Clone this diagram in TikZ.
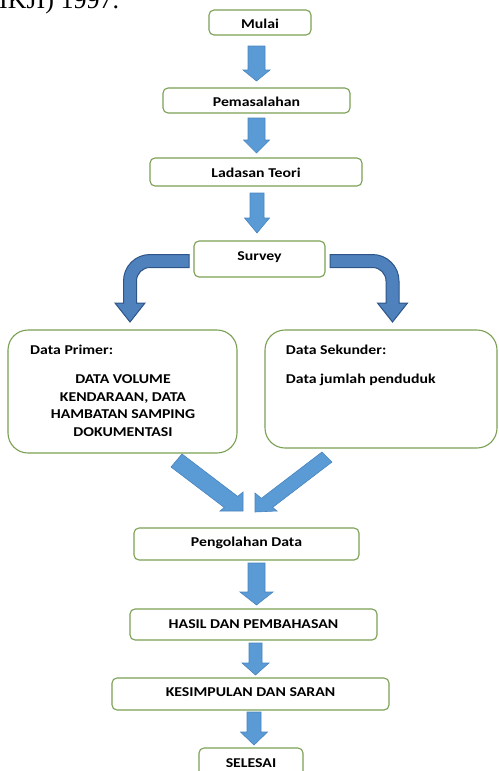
\documentclass[tikz,border=0pt]{standalone}
\usepackage{fontspec}
\setmainfont{Carlito}[FakeStretch=1.17]
\newfontfamily\serifhead{Liberation Serif}
\definecolor{boxgreen}{RGB}{122,160,84}
\definecolor{arrlight}{RGB}{91,155,213}
\definecolor{arrlightedge}{RGB}{72,132,192}
\definecolor{arrdark}{RGB}{79,129,189}
\definecolor{arrdarkedge}{RGB}{45,85,135}
\tikzset{
  box/.style={draw=boxgreen, line width=1.1pt, rounded corners=5pt, fill=white,
    inner sep=0pt, font=\fontsize{13.5}{16}\selectfont\bfseries,
    text height=11.7pt, text depth=0pt},
  bigbox/.style={draw=boxgreen, line width=1.1pt, rounded corners=20pt, fill=white, inner sep=0pt},
  txt/.style={inner sep=0pt, font=\fontsize{13.5}{16}\selectfont\bfseries,
    text height=8.7pt, text depth=0pt},
  blocktxt/.style={inner sep=0pt, align=center, font=\fontsize{13.5}{17.7}\selectfont\bfseries},
  lightarrow/.style={fill=arrlight, draw=arrlightedge, line width=0.6pt, line join=miter},
  darkarrow/.style={fill=arrdark, draw=arrdarkedge, line width=1pt, line join=miter}
}
\newcommand\downblk[6]{\draw[lightarrow] ({#1-#5},#2) -- ({#1+#5},#2) -- ({#1+#5},#3) -- ({#1+#6},#3) -- (#1,#4) -- ({#1-#6},#3) -- ({#1-#5},#3) -- cycle;}
\begin{document}
\begin{tikzpicture}[x=1pt, y=-1pt]
\path[use as bounding box] (0,0) rectangle (498,771);
\clip (0,0) rectangle (498,771);

% header fragment
\node[font=\serifhead\fontsize{26}{26}\selectfont, anchor=base west, inner sep=0pt] (head) at (-1,9) {IKJI) 1997.};

% boxes
\node[box, minimum width=102pt, minimum height=25pt] (mulai) at (260,22.5) {Mulai};
\node[box, minimum width=187pt, minimum height=25pt] (masalah) at (256.5,100.5) {Pemasalahan};
\node[box, minimum width=212pt, minimum height=28pt] (teori) at (256,172) {Ladasan Teori};
\node[box, minimum width=131pt, minimum height=36pt, text height=8.7pt, text depth=6pt] (survey) at (259.5,259) {Survey};

\node[bigbox, minimum width=229pt, minimum height=123pt] (primer) at (122.5,391.5) {};
\node[bigbox, minimum width=232pt, minimum height=118pt] (sekunder) at (381,389) {};
\node[txt, anchor=west] (primerlabel) at (30,350) {Data Primer:};
\node[blocktxt] (primerdata) at (123,405.5) {DATA VOLUME\\KENDARAAN, DATA\\HAMBATAN SAMPING\\DOKUMENTASI};
\node[txt, anchor=west] (sekunderlabel) at (285.7,350) {Data Sekunder:};
\node[txt, anchor=west] (sekunderdata) at (285.7,379) {Data jumlah penduduk};

\node[box, minimum width=225pt, minimum height=32pt, text height=8.7pt, text depth=4pt] (olah) at (246.5,544) {Pengolahan Data};
\node[box, minimum width=247pt, minimum height=31pt, text height=8.7pt, text depth=1.4pt] (hasil) at (253.5,624.5) {HASIL DAN PEMBAHASAN};
\node[box, minimum width=277pt, minimum height=32pt, text height=8.7pt, text depth=4pt] (simpul) at (250.5,694) {KESIMPULAN DAN SARAN};
\node[box, minimum width=104pt, minimum height=28pt] (selesai) at (251,762) {SELESAI};

% straight block arrows
\downblk{256.5}{46}{70}{81}{8.5}{13.5}
\downblk{256.5}{118}{140}{153}{8.5}{13}
\downblk{257}{193}{218}{233}{7}{12.5}
\downblk{256.5}{563}{592}{605}{8.5}{16.5}
\downblk{255.5}{643}{663}{675}{6.5}{13.5}
\downblk{254}{712}{732}{745}{7}{13.5}

% curved arrows from Survey
\draw[darkarrow] (189,254.5) -- (150,254.5) arc[start angle=270, end angle=180, radius=26.5]
  -- (123.5,303) -- (115,303) -- (130,322) -- (145,303) -- (136.5,303) -- (136.5,281)
  arc[start angle=180, end angle=270, radius=13.5] -- (189,267.5) -- cycle;
\draw[darkarrow] (330,254.5) -- (372.5,254.5) arc[start angle=270, end angle=360, radius=26.5]
  -- (399,303) -- (407.5,303) -- (392.5,322) -- (377.5,303) -- (386,303) -- (386,281)
  arc[start angle=0, end angle=-90, radius=13.5] -- (330,267.5) -- cycle;

% diagonal arrows into Pengolahan Data
\draw[lightarrow] (182,454) -- (237.7,496.4) -- (243,492) -- (243,511) -- (220,511) -- (224.3,507.5) -- (171,467) -- cycle;
\draw[lightarrow] (322,452) -- (261.4,498.3) -- (255,493) -- (255,512) -- (277,511) -- (272.6,507.4) -- (332,462) -- cycle;
\end{tikzpicture}
\end{document}
